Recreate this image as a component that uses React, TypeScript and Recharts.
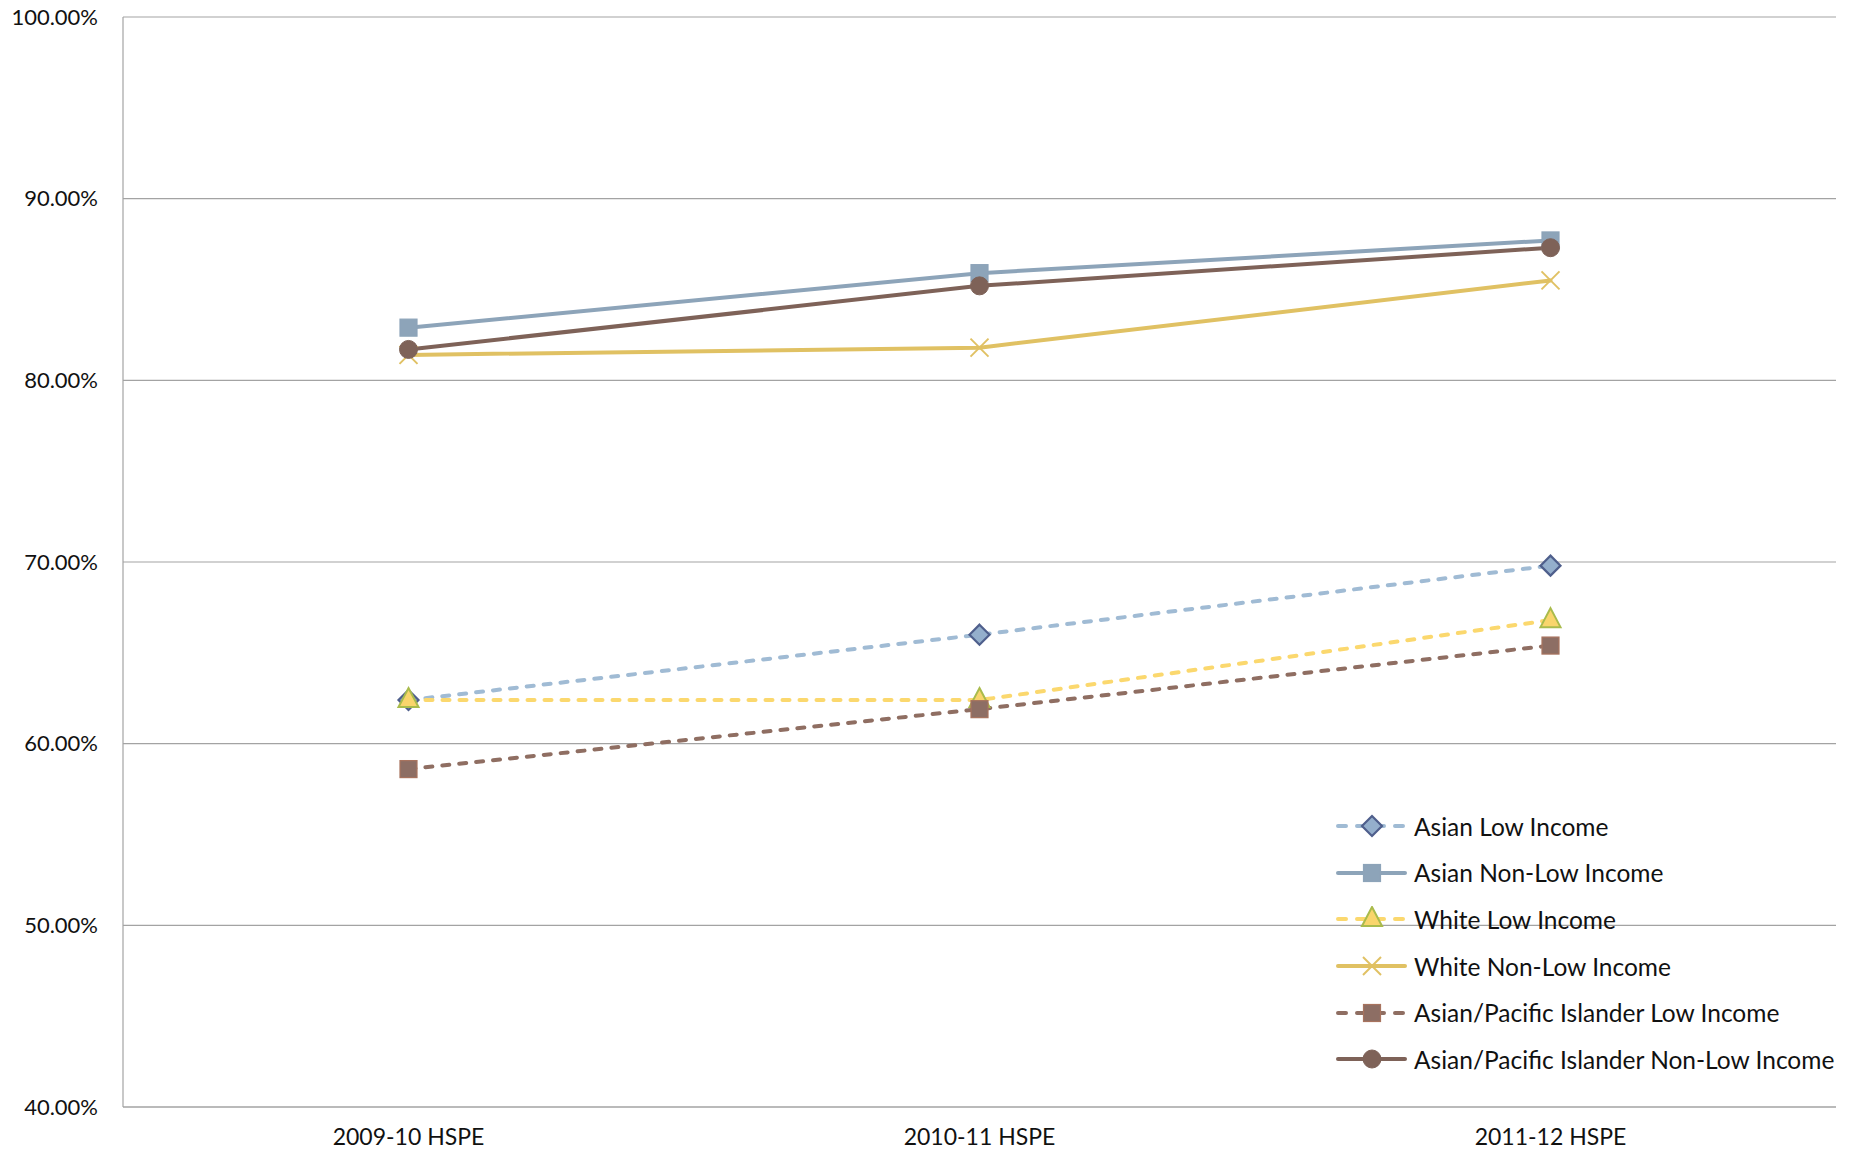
import React from "react";
import { LineChart, Line, XAxis, YAxis, CartesianGrid, Legend } from "recharts";

const years = ["2009-10 HSPE", "2010-11 HSPE", "2011-12 HSPE"];
const yTicks = [40, 50, 60, 70, 80, 90, 100];

const asianLow = [62.4, 66.0, 69.8];
const asianNonLow = [82.9, 85.9, 87.7];
const whiteLow = [62.4, 62.4, 66.8];
const whiteNonLow = [81.4, 81.8, 85.5];
const apiLow = [58.6, 61.9, 65.4];
const apiNonLow = [81.7, 85.2, 87.3];

type Shape = "diamond" | "square" | "triangle" | "x" | "circle";

type Series = {
  key: string;
  name: string;
  values: number[];
  color: string;
  dashed: boolean;
  shape: Shape;
  fill: string;
  edge: string;
};

const series: Series[] = [
  { key: "al", name: "Asian Low Income", values: asianLow, color: "#a0bbd4", dashed: true, shape: "diamond", fill: "#94afcc", edge: "#4f5f8c" },
  { key: "an", name: "Asian Non-Low Income", values: asianNonLow, color: "#8da4b9", dashed: false, shape: "square", fill: "#8da4b9", edge: "#8da4b9" },
  { key: "wl", name: "White Low Income", values: whiteLow, color: "#fbd86e", dashed: true, shape: "triangle", fill: "#f9d56c", edge: "#a9bb4c" },
  { key: "wn", name: "White Non-Low Income", values: whiteNonLow, color: "#e0c163", dashed: false, shape: "x", fill: "none", edge: "#e0c163" },
  { key: "pl", name: "Asian/Pacific Islander Low Income", values: apiLow, color: "#8f6e62", dashed: true, shape: "square", fill: "#8d6e64", edge: "#a8735e" },
  { key: "pn", name: "Asian/Pacific Islander Non-Low Income", values: apiNonLow, color: "#7e6258", dashed: false, shape: "circle", fill: "#7e6258", edge: "#7e6258" },
];

const data = years.map((year, i) => {
  const row: Record<string, string | number> = { year };
  series.forEach((s) => (row[s.key] = s.values[i]));
  return row;
});

const FONT = "Lato, 'Open Sans', sans-serif";

// One marker drawer shared by the lines and the legend.
function Marker({ cx, cy, s }: { cx: number; cy: number; s: Series }) {
  if (s.shape === "diamond")
    return <path d={`M${cx},${cy - 10} L${cx + 10},${cy} L${cx},${cy + 10} L${cx - 10},${cy} Z`} fill={s.fill} stroke={s.edge} strokeWidth={2.2} />;
  if (s.shape === "square")
    return <rect x={cx - 8.5} y={cy - 8.5} width={17} height={17} fill={s.fill} stroke={s.edge} strokeWidth={1.2} />;
  if (s.shape === "triangle")
    return <path d={`M${cx},${cy - 12} L${cx + 10},${cy + 7} L${cx - 10},${cy + 7} Z`} fill={s.fill} stroke={s.edge} strokeWidth={2} />;
  if (s.shape === "x")
    return (
      <g stroke={s.edge} strokeWidth={2}>
        <line x1={cx - 9} y1={cy - 9} x2={cx + 9} y2={cy + 9} />
        <line x1={cx - 9} y1={cy + 9} x2={cx + 9} y2={cy - 9} />
      </g>
    );
  return <circle cx={cx} cy={cy} r={9} fill={s.fill} stroke={s.edge} strokeWidth={1} />;
}

function LegendBox() {
  return (
    <div style={{ fontFamily: FONT, fontSize: 24.5, color: "#111" }}>
      {series.map((s) => (
        <div key={s.key} style={{ display: "flex", alignItems: "center", height: 46.6 }}>
          <svg width={78} height={26} style={{ flex: "none" }}>
            <line x1={2} y1={13} x2={69} y2={13} stroke={s.color} strokeWidth={4} strokeLinecap="round" strokeDasharray={s.dashed ? "8 11" : undefined} />
            <Marker cx={36} cy={13} s={s} />
          </svg>
          <span style={{ whiteSpace: "nowrap" }}>{s.name}</span>
        </div>
      ))}
    </div>
  );
}

export default function App() {
  return (
    <div style={{ position: "absolute", left: 0, top: 0, background: "#fff" }}>
      <LineChart width={1855} height={1151} data={data} margin={{ top: 17, right: 19, left: 0, bottom: 0 }}>
        <CartesianGrid stroke="#a3a3a3" strokeWidth={1.2} vertical={false} />
        <XAxis
          dataKey="year"
          padding={{ left: 285.5, right: 285.5 }}
          height={44}
          tickSize={0}
          tickMargin={22}
          axisLine={{ stroke: "#a3a3a3", strokeWidth: 1.2 }}
          tick={{ fontSize: 23, fill: "#111", fontFamily: FONT }}
        />
        <YAxis
          domain={[40, 100]}
          ticks={yTicks}
          width={123}
          tickSize={0}
          tickMargin={25}
          axisLine={{ stroke: "#a3a3a3", strokeWidth: 1.2 }}
          tickFormatter={(v: number) => `${v.toFixed(2)}%`}
          tick={{ fontSize: 22, fill: "#111", fontFamily: FONT }}
        />
        {series.map((s) => (
          <Line
            key={s.key}
            dataKey={s.key}
            name={s.name}
            type="linear"
            stroke={s.color}
            strokeWidth={4}
            strokeLinecap="round"
            strokeDasharray={s.dashed ? "7 10" : undefined}
            dot={(p: any) => <Marker key={`${s.key}-${p.index}`} cx={p.cx} cy={p.cy} s={s} />}
            activeDot={false}
            isAnimationActive={false}
          />
        ))}
        <Legend
          layout="vertical"
          align="center"
          verticalAlign="middle"
          content={() => <LegendBox />}
          wrapperStyle={{ left: 1336, top: 803, width: 519, height: "auto" }}
        />
      </LineChart>
    </div>
  );
}
